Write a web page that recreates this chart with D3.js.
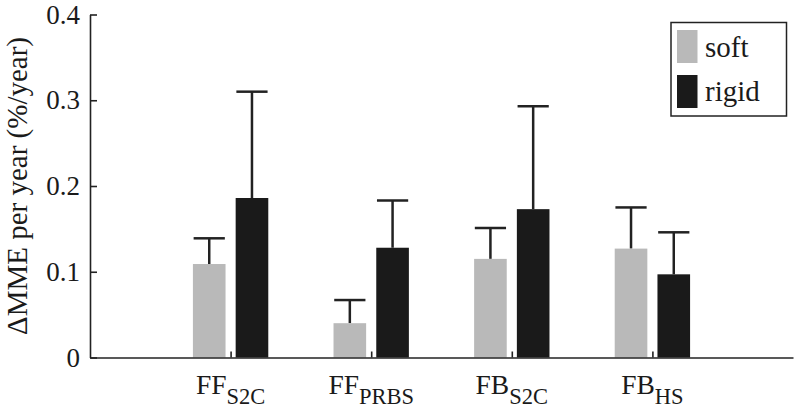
<!DOCTYPE html>
<html><head><meta charset="utf-8">
<script src="https://cdn.jsdelivr.net/npm/d3@7"></script>
<style>
html,body{margin:0;padding:0;background:#fff;}
svg text{font-family:"Liberation Serif","Times New Roman",Tinos,"DejaVu Serif",serif !important;fill:#1a1a1a;}
</style></head>
<body>
<svg id="chart" width="794" height="409"></svg>
<script>
// ---- data ----
const categories = [["FF","S2C"],["FF","PRBS"],["FB","S2C"],["FB","HS"]];
const seriesNames = ["soft","rigid"];
const softMean = [0.109, 0.040, 0.115, 0.127];
const softErr  = [0.030, 0.027, 0.036, 0.048];
const rigidMean = [0.186, 0.128, 0.173, 0.097];
const rigidErr  = [0.124, 0.055, 0.120, 0.049];
const yTicks = [0, 0.1, 0.2, 0.3, 0.4];
const yLabel = "ΔMME per year (%/year)";

const colors = {soft:"#b9b9b9", rigid:"#1a1a1a"};
const ink = "#222";
const FONT = "'Liberation Serif','Times New Roman',Tinos,'DejaVu Serif',serif";

const svg = d3.select("#chart");
const x = d3.scaleLinear().domain([0,5]).range([90,793]);
const y = d3.scaleLinear().domain([0,0.4]).range([357.5,14.5]);

const barW = 0.232, off = 0.152;
const series = [
  {name:"soft", mean:softMean, err:softErr, dx:-off},
  {name:"rigid", mean:rigidMean, err:rigidErr, dx:off}
];

// bars + error bars
series.forEach(s=>{
  const g = svg.append("g");
  const data = s.mean.map((m,i)=>({i:i+1,m,e:s.err[i]}));
  g.selectAll("line.stem").data(data).join("line")
    .attr("x1",d=>x(d.i+s.dx)).attr("x2",d=>x(d.i+s.dx))
    .attr("y1",d=>y(d.m)).attr("y2",d=>y(d.m+d.e))
    .attr("stroke",ink).attr("stroke-width",2.5);
  g.selectAll("line.cap").data(data).join("line")
    .attr("x1",d=>x(d.i+s.dx-barW/2+0.005)).attr("x2",d=>x(d.i+s.dx+barW/2-0.005))
    .attr("y1",d=>y(d.m+d.e)).attr("y2",d=>y(d.m+d.e))
    .attr("stroke",ink).attr("stroke-width",2.5);
  g.selectAll("rect").data(data).join("rect")
    .attr("x",d=>x(d.i+s.dx-barW/2)).attr("width",x(barW)-x(0))
    .attr("y",d=>y(d.m)).attr("height",d=>y(0)-y(d.m))
    .attr("fill",colors[s.name]);
});

// y axis
const yAxis = d3.axisLeft(y).tickValues(yTicks)
  .tickFormat(d=> d===0 ? "0" : d.toFixed(1))
  .tickSizeInner(-7).tickSizeOuter(0).tickPadding(10);
const gy = svg.append("g").attr("transform",`translate(${x(0)},0)`).call(yAxis)
  .attr("font-family",FONT).attr("font-size",27);
gy.select(".domain").attr("stroke",ink).attr("stroke-width",1.6);
gy.selectAll(".tick line").attr("stroke",ink).attr("stroke-width",1.6);
gy.selectAll(".tick text").attr("fill","#1a1a1a");

// x axis
const xAxis = d3.axisBottom(x).tickValues([1,2,3,4]).tickFormat("")
  .tickSizeInner(-6).tickSizeOuter(0);
const gx = svg.append("g").attr("transform",`translate(0,${y(0)})`).call(xAxis);
gx.select(".domain").attr("stroke",ink).attr("stroke-width",1.6);
gx.selectAll(".tick line").attr("stroke",ink).attr("stroke-width",1.6);

// category labels with subscripts
categories.forEach((c,i)=>{
  const t = svg.append("text").attr("x",x(i+1)).attr("y",393.5)
    .attr("text-anchor","middle").attr("font-size",27.5).attr("font-family",FONT);
  t.append("tspan").text(c[0]);
  t.append("tspan").attr("font-size",22.5).attr("dy",10).text(c[1]);
});

// y label
svg.append("text").attr("transform","translate(27,186) rotate(-90)")
  .attr("text-anchor","middle").attr("font-size",29).attr("font-family",FONT).text(yLabel);

// legend
const lg = svg.append("g");
lg.append("rect").attr("x",671).attr("y",22.5).attr("width",115.5).attr("height",93.5)
  .attr("fill","#fff").attr("stroke",ink).attr("stroke-width",1.5);
seriesNames.forEach((n,i)=>{
  lg.append("rect").attr("x",677).attr("y",30+i*45).attr("width",20.5).attr("height",33)
    .attr("fill",colors[n]);
  lg.append("text").attr("x",705).attr("y",56.5+i*44).attr("font-size",29)
    .attr("font-family",FONT).text(n);
});
</script>
</body></html>
